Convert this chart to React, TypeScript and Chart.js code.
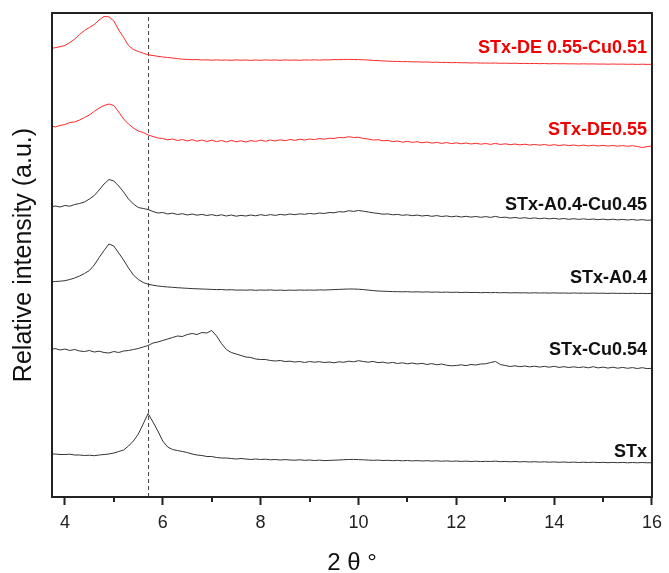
import React, { useEffect, useRef } from 'react';
import { Chart, registerables } from 'chart.js';

Chart.register(...registerables);

// 2θ grid (degrees)
const X = [
  3.74, 3.8, 3.9,
  4.0, 4.1, 4.2, 4.3, 4.4, 4.5, 4.6, 4.7, 4.8, 4.9,
  5.0, 5.1, 5.2, 5.3, 5.4, 5.5, 5.6, 5.7, 5.8, 5.9,
  6.0, 6.1, 6.2, 6.3, 6.4, 6.5, 6.6, 6.7, 6.8, 6.9,
  7.0, 7.1, 7.2, 7.3, 7.4, 7.5, 7.6, 7.7, 7.8, 7.9,
  8.0, 8.1, 8.2, 8.3, 8.4, 8.5, 8.6, 8.7, 8.8, 8.9,
  9.0, 9.1, 9.2, 9.3, 9.4, 9.5, 9.6, 9.7, 9.8, 9.9,
  10.0, 10.1, 10.2, 10.3, 10.4, 10.5, 10.6, 10.7, 10.8, 10.9,
  11.0, 11.1, 11.2, 11.3, 11.4, 11.5, 11.6, 11.7, 11.8, 11.9,
  12.0, 12.1, 12.2, 12.3, 12.4, 12.5, 12.6, 12.7, 12.8, 12.9,
  13.0, 13.1, 13.2, 13.3, 13.4, 13.5, 13.6, 13.7, 13.8, 13.9,
  14.0, 14.1, 14.2, 14.3, 14.4, 14.5, 14.6, 14.7, 14.8, 14.9,
  15.0, 15.1, 15.2, 15.3, 15.4, 15.5, 15.6, 15.7, 15.8, 15.9,
  16.0,
];

// Stacked relative intensity (a.u.), one array per sample
const DE055_CU051 = [
  448.7, 449.3, 450.3,
  451.5, 454.5, 458, 462.5, 466.5, 469.5, 472.5, 477, 480.5, 480.2,
  476, 467, 459.5, 451.5, 447.5, 445.5, 443.8, 442.2, 441.5, 440.7,
  440, 439.5, 439, 438.4, 437.8, 437.6, 437.3, 437.4, 437, 437.2,
  436.8, 437.1, 436.8, 437, 436.7, 437.1, 436.8, 437, 436.6, 437,
  436.7, 437.1, 436.8, 437, 436.7, 437.1, 436.8, 437, 436.7, 437.1,
  436.9, 437.2, 436.9, 437.2, 437.1, 437.4, 437.3, 437.6, 437.6, 437.5,
  437.4, 437.2, 437, 436.6, 436.4, 436, 435.9, 435.6, 435.6, 435.3,
  435.4, 435.1, 435.2, 434.9, 435, 434.7, 434.8, 434.5, 434.6, 434.3,
  434.5, 434.2, 434.3, 434, 434.2, 433.9, 434, 433.8, 434, 433.7,
  433.8, 433.6, 433.8, 433.5, 433.6, 433.4, 433.6, 433.3, 433.5, 433.2,
  433.4, 433.2, 433.3, 433.1, 433.2, 433, 433.2, 433, 433.1, 432.9,
  433, 432.8, 433, 432.8, 432.9, 432.7, 432.8, 432.6, 432.8, 432.6,
  432.7,
];

const DE055 = [
  371, 370, 371.5,
  372.5, 374.5, 375, 377, 379.5, 382, 385.5, 389, 391.5, 393,
  391.5, 385, 378, 373, 369, 366, 364.5, 362, 360.5, 359,
  358.5, 357.2, 358, 356.5, 357.5, 356, 357.3, 355.8, 357, 355.5,
  356.8, 355.4, 356.5, 355, 356.6, 355.3, 356.2, 355, 356.4, 355.6,
  356.8, 355.7, 357, 356, 357.2, 356.3, 357.5, 356.6, 357.8, 357,
  358, 357.4, 358.5, 357.8, 358.8, 358.5, 359.5, 359.3, 360.3, 359.5,
  359.8, 358.5, 358, 357, 357.3, 356.2, 356.6, 355.4, 356, 354.8,
  355.6, 354.6, 355.3, 354.2, 355, 353.9, 354.6, 353.6, 354.4, 353.4,
  354.2, 353.2, 354, 353, 353.7, 352.8, 353.5, 352.6, 353.6, 352.5,
  353.2, 352.3, 353, 352.1, 352.8, 351.9, 352.6, 351.8, 352.5, 351.6,
  352.3, 351.5, 352.2, 351.4, 352, 351.2, 351.9, 351.1, 351.8, 351,
  351.7, 350.9, 351.5, 350.8, 351.4, 350.7, 351.3, 350.5, 349.5, 350.4,
  351,
];

const A04_CU045 = [
  290.3, 291, 290,
  291.5, 290.8, 292.5, 293.5, 295, 298, 301.5, 307, 313, 317.5,
  316, 311, 305, 298, 293, 289.5, 288.5, 287.5, 285.5, 284,
  284.5, 283, 283.8, 282.5, 283.3, 282, 283, 281.8, 282.6, 281.5,
  282.4, 281.3, 282.2, 281, 282, 280.8, 281.6, 281, 282, 281.2,
  282.3, 281.5, 282.4, 281.6, 282.6, 282, 283, 282.3, 283.2, 282.7,
  283.6, 283, 284, 283.5, 284.5, 284.2, 285.3, 285, 286.3, 285.6,
  286.5, 285.8, 285, 284.2, 283.6, 282.8, 283.1, 282.2, 282.6, 281.7,
  282.2, 281.3, 281.9, 281, 281.6, 280.7, 281.4, 280.5, 281.1, 280.2,
  280.9, 280, 280.7, 279.9, 280.5, 279.7, 280.4, 279.6, 280.6, 279.5,
  279.8, 278.9, 279.5, 278.7, 279.3, 278.5, 279.1, 278.3, 278.9, 278.1,
  278.7, 277.9, 278.5, 277.7, 278.3, 277.6, 278.2, 277.5, 278, 277.3,
  277.9, 277.2, 277.8, 277.1, 277.6, 277, 277.5, 276.8, 277.4, 276.7,
  277,
];

const A04 = [
  215.3, 215.5, 215.8,
  216.3, 217.5, 219, 221, 223.5, 226.5, 232, 239.5, 246.5, 253,
  251, 244, 237, 229, 222, 217.5, 214.5, 212.8, 211.8, 211,
  210.5, 210, 209.7, 209.3, 209, 208.7, 208.4, 208.2, 208, 207.8,
  207.6, 207.4, 207.5, 207.1, 207.3, 206.9, 207, 206.8, 207.1, 206.7,
  207, 206.8, 207.1, 206.7, 206.9, 206.6, 206.9, 206.7, 207, 206.8,
  207, 206.8, 207.1, 207, 207.2, 207.4, 207.6, 207.8, 208, 208,
  207.8, 207.4, 206.9, 206.4, 206, 205.8, 205.6, 205.4, 205.3, 205.2,
  205.3, 205, 205.2, 204.9, 205.1, 204.8, 205, 204.7, 204.9, 204.6,
  204.8, 204.5, 204.7, 204.5, 204.6, 204.3, 204.5, 204.3, 204.5, 204.2,
  204.4, 204.1, 204.3, 204.1, 204.2, 204, 204.2, 204, 204.1, 203.9,
  204.1, 203.9, 204, 203.8, 204, 203.8, 203.9, 203.7, 203.9, 203.7,
  203.8, 203.6, 203.8, 203.6, 203.7, 203.5, 203.7, 203.5, 203.6, 203.4,
  203.7,
];

const CU054 = [
  147.7, 148.5, 147,
  148, 146.5, 147.5, 146, 145.5, 146.5, 145, 145.8, 144.5, 144,
  145.5, 144.5, 146, 146.5, 147.5, 148.5, 150, 151.5, 154, 155,
  156.5, 158, 159.5, 161, 160.5, 162.5, 163.5, 162.5, 164.5, 164,
  166.5, 161, 153.5, 147.5, 144.5, 143, 141.5, 140, 139.5, 138,
  137.5, 137.5, 136.5, 136, 136.5, 135.5, 135.8, 135, 135.5, 134.5,
  135.5, 134.8, 135.3, 134.5, 135, 134.2, 135.2, 134.7, 135.8, 135.2,
  136.3, 135.5, 134.8, 135.6, 134.3, 134.9, 133.8, 134.6, 133.5, 134.2,
  133.2, 134, 133, 133.7, 132.5, 133.4, 132.2, 133, 131.8, 131.2,
  131.5, 132.2, 131.4, 132.5, 132, 133, 133.2, 134.5, 135.5, 132.5,
  131.5, 130.5, 131.2, 130.3, 131, 130.1, 130.8, 129.9, 130.6, 129.8,
  130.7, 129.6, 130.3, 129.5, 130.2, 129.4, 130.1, 129.2, 130.3, 129.1,
  129.9, 128.9, 129.8, 128.8, 129.6, 128.7, 129.4, 128.5, 129.3, 128.4,
  128.7,
];

const STX = [
  43, 43, 42.5,
  42.5, 42.8, 42, 42, 41.5, 41.8, 41.3, 42, 42.5, 43,
  44, 45.5, 47, 51, 56, 63, 73, 83.5, 75, 66,
  56, 50, 47.5, 46.5, 45.5, 44.5, 43, 42, 41.5, 40.5,
  40.5, 39.5, 39, 39, 38.5, 38, 38.5, 38, 37.5, 38,
  37.5, 37.8, 37.2, 37.5, 37, 37.4, 37, 36.8, 37.2, 36.7,
  37, 36.5, 36.9, 36.4, 36.6, 36.8, 37, 37.3, 37.5, 37.6,
  37.4, 37.2, 36.9, 36.7, 36.9, 36.5, 36.7, 36.3, 36.6, 36.2,
  36.5, 36.1, 36.4, 36, 36.3, 35.9, 36.2, 35.8, 36.1, 35.7,
  36, 35.6, 35.9, 35.5, 35.8, 35.4, 35.7, 35.5, 35.9, 35.3,
  35.6, 35.2, 35.5, 35.1, 35.4, 35, 35.3, 34.9, 35.2, 34.8,
  35.1, 34.7, 35, 34.6, 34.9, 34.5, 34.8, 34.5, 34.8, 34.4,
  34.7, 34.3, 34.6, 34.3, 34.6, 34.2, 34.5, 34.2, 34.5, 34.2,
  34.3,
];

const SERIES = [DE055_CU051, DE055, A04_CU045, A04, CU054, STX];
const SERIES_NAMES = ['STx-DE 0.55-Cu0.51', 'STx-DE0.55', 'STx-A0.4-Cu0.45', 'STx-A0.4', 'STx-Cu0.54', 'STx'];
const LINE_COLORS = ['rgb(255,40,40)', 'rgb(255,40,40)', '#333333', '#333333', '#333333', '#333333'];
const LABEL_COLORS = ['#f00000', '#f00000', '#111111', '#111111', '#111111', '#111111'];
const LABEL_Y = [449.3, 367, 292, 219, 147, 45.3];
const LABEL_X = 15.9;

const X_MIN = 3.736;
const X_MAX = 16;
const Y_MIN = 0;
const Y_MAX = 484;
const DASH_X = 5.71;
const MINOR_TICKS = [5, 7, 9, 11, 13, 15];

const FONT = '"Liberation Sans", Arial, sans-serif';

const overlay = {
  id: 'overlay',
  afterDraw(chart: any) {
    const { ctx, chartArea, scales } = chart;
    const { left, top, right, bottom } = chartArea;
    const xs = scales.x;
    const ys = scales.y;
    ctx.save();
    // frame
    ctx.strokeStyle = '#222';
    ctx.lineWidth = 2;
    ctx.strokeRect(left, top, right - left, bottom - top);
    // minor ticks
    ctx.beginPath();
    for (const v of MINOR_TICKS) {
      const px = Math.round(xs.getPixelForValue(v));
      ctx.moveTo(px, bottom);
      ctx.lineTo(px, bottom + 5);
    }
    ctx.stroke();
    // series labels
    ctx.font = 'bold 18px ' + FONT;
    ctx.textAlign = 'right';
    ctx.textBaseline = 'middle';
    SERIES_NAMES.forEach((name, i) => {
      ctx.fillStyle = LABEL_COLORS[i];
      ctx.fillText(name, xs.getPixelForValue(LABEL_X), ys.getPixelForValue(LABEL_Y[i]));
    });
    // x title
    ctx.fillStyle = '#111';
    ctx.font = '24px ' + FONT;
    ctx.textAlign = 'center';
    ctx.fillText('2 θ °', (left + right) / 2, 563);
    // y title
    ctx.translate(24, (top + bottom) / 2);
    ctx.rotate(-Math.PI / 2);
    ctx.font = '25px ' + FONT;
    ctx.fillText('Relative intensity (a.u.)', 0, 0);
    ctx.restore();
  },
};

export default function App() {
  const ref = useRef<HTMLCanvasElement | null>(null);
  useEffect(() => {
    if (!ref.current) return;
    const datasets: any[] = SERIES.map((s, i) => ({
      label: SERIES_NAMES[i],
      data: X.map((x, j) => ({ x, y: s[j] })),
      borderColor: LINE_COLORS[i],
      borderWidth: 1,
      pointRadius: 0,
      tension: 0,
      fill: false,
    }));
    datasets.push({
      label: 'ref',
      data: [{ x: DASH_X, y: Y_MIN }, { x: DASH_X, y: Y_MAX }],
      borderColor: '#444',
      borderWidth: 1,
      borderDash: [4, 3],
      pointRadius: 0,
      fill: false,
    });
    const chart = new Chart(ref.current, {
      type: 'line',
      data: { datasets },
      options: {
        responsive: false,
        animation: false,
        devicePixelRatio: 1,
        layout: { padding: { left: 52, right: 14, top: 13, bottom: 0 } },
        plugins: { legend: { display: false }, tooltip: { enabled: false } },
        scales: {
          x: {
            type: 'linear',
            min: X_MIN,
            max: X_MAX,
            afterFit: (scale: any) => { scale.height = 76; },
            border: { display: false },
            grid: {
              display: true,
              drawOnChartArea: false,
              drawTicks: true,
              tickLength: 8,
              tickWidth: 2,
              tickColor: '#222',
            },
            ticks: {
              stepSize: 2,
              includeBounds: false,
              autoSkip: false,
              maxRotation: 0,
              padding: 7,
              color: '#222',
              font: { size: 18, family: FONT },
              callback: (v: any) => String(v),
            },
          },
          y: { type: 'linear', min: Y_MIN, max: Y_MAX, display: false },
        },
      },
      plugins: [overlay],
    });
    return () => chart.destroy();
  }, []);
  return (
    <div style={{ position: 'fixed', left: 0, top: 0, width: 669, height: 573, background: '#fff' }}>
      <canvas ref={ref} width={669} height={573} />
    </div>
  );
}
